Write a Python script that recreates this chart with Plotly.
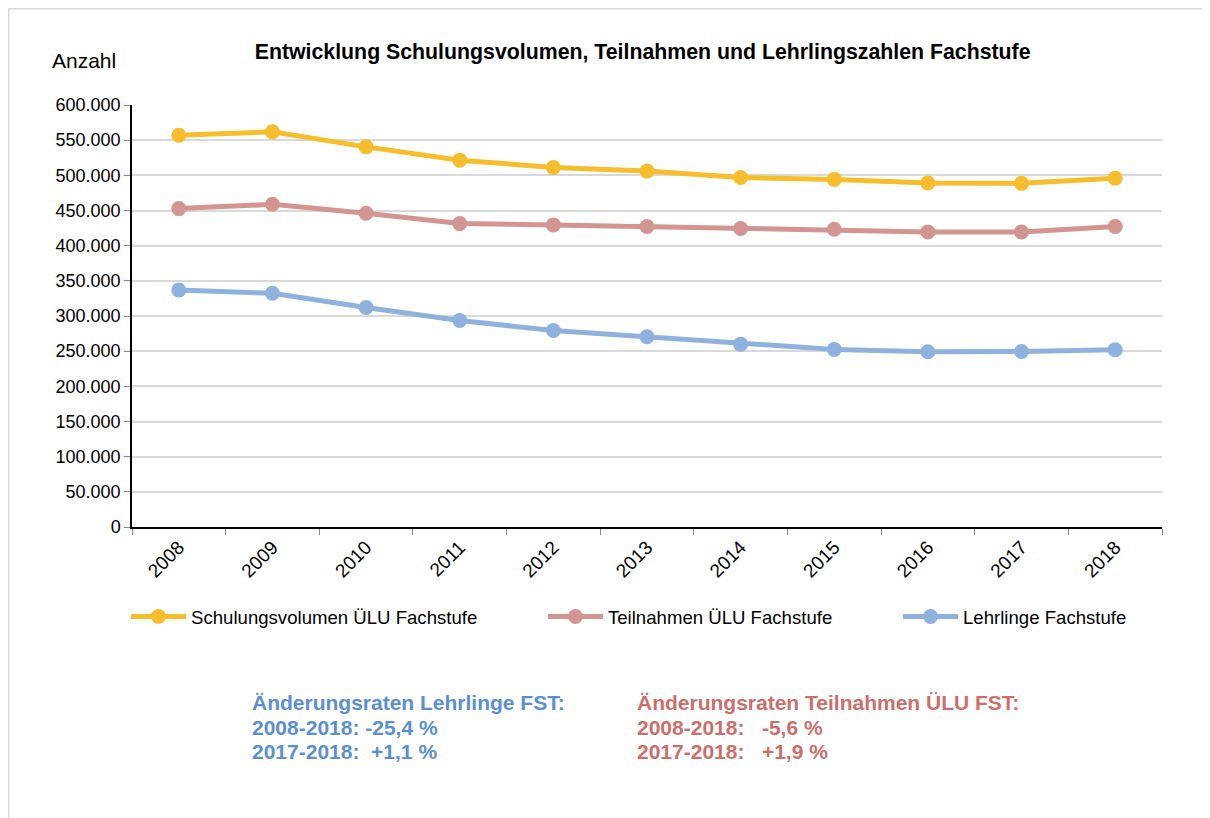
import plotly.graph_objects as go

# Data
years = ['2008', '2009', '2010', '2011', '2012', '2013', '2014', '2015', '2016', '2017', '2018']
schulungsvolumen = [557000, 561800, 540500, 521600, 511200, 506000, 497000, 494200, 489000, 488600, 496000]
teilnahmen = [452700, 458800, 446000, 431400, 429500, 427200, 424400, 423400, 419600, 419600, 427200]
lehrlinge = [337000, 332300, 312000, 293600, 279400, 270400, 260000, 252500, 249200, 249600, 252000]

series_names = ['Schulungsvolumen ÜLU Fachstufe', 'Teilnahmen ÜLU Fachstufe', 'Lehrlinge Fachstufe']
series_colors = ['#F6BE2C', '#D39592', '#8FB1DD']

lehrlinge_text = ['Änderungsraten Lehrlinge FST:', '2008-2018: -25,4 %', '2017-2018:  +1,1 %']
teilnahmen_text = ['Änderungsraten Teilnahmen ÜLU FST:', '2008-2018:   -5,6 %', '2017-2018:   +1,9 %']

FONT = 'Liberation Sans, Arial, sans-serif'

fig = go.Figure()
legend_ids = ['legend', 'legend2', 'legend3']
for name, values, color, lg in zip(series_names, [schulungsvolumen, teilnahmen, lehrlinge],
                                   series_colors, legend_ids):
    fig.add_scatter(x=years, y=values, mode='lines+markers', name=name, legend=lg,
                    line=dict(color=color, width=5),
                    marker=dict(color=color, size=15))

# axes styled like the Excel original
fig.update_xaxes(type='category', range=[-0.5, 10.5], tickson='boundaries',
                 ticks='outside', ticklen=6, tickcolor='#888888',
                 showline=True, linecolor='black', linewidth=1.5,
                 showgrid=False, tickangle=-45,
                 tickfont=dict(family=FONT, size=19, color='black'))
fig.update_yaxes(range=[0, 600000], dtick=50000, tickformat=',d',
                 ticks='outside', ticklen=6, tickcolor='#888888',
                 showline=True, linecolor='black', linewidth=1.5,
                 gridcolor='#D9D9D9', gridwidth=1.5, zeroline=False,
                 tickfont=dict(family=FONT, size=18, color='black'))

# change-rate text blocks under the legend, one annotation per line
line_y = [-0.417, -0.474, -0.533]
for txt, y in zip(lehrlinge_text, line_y):
    fig.add_annotation(text=txt, xref='paper', yref='paper', x=0.1146, y=y,
                       xanchor='left', yanchor='middle', showarrow=False,
                       font=dict(family=FONT, size=21, color='#5B8FD0', weight='bold'))
for txt, y in zip(teilnahmen_text, line_y):
    fig.add_annotation(text=txt, xref='paper', yref='paper', x=0.488, y=y,
                       xanchor='left', yanchor='middle', showarrow=False,
                       font=dict(family=FONT, size=21, color='#CB6F6C', weight='bold'))

fig.add_annotation(text='Anzahl', xref='paper', yref='paper', x=-0.0796, y=1.1066,
                   xanchor='left', yanchor='middle', showarrow=False,
                   font=dict(family=FONT, size=21, color='black'))

# thin outer frame (only top and left edges visible in the original)
fig.add_shape(type='line', xref='paper', yref='paper', x0=-0.1199, x1=1.06, y0=1.2287, y1=1.2287,
              line=dict(color='#D9D9D9', width=2))
fig.add_shape(type='line', xref='paper', yref='paper', x0=-0.1199, x1=-0.1199, y0=1.2287, y1=-0.75,
              line=dict(color='#D9D9D9', width=2))

legend_style = dict(orientation='h', y=-0.213, xanchor='left', yanchor='middle',
                    itemwidth=55, bgcolor='rgba(0,0,0,0)',
                    font=dict(family=FONT, size=18.6, color='black'))

fig.update_layout(
    width=1202, height=810,
    margin=dict(l=124, r=48, t=97, b=291),
    paper_bgcolor='white', plot_bgcolor='white',
    separators=',.',
    title=dict(text='<b>Entwicklung Schulungsvolumen, Teilnahmen und Lehrlingszahlen Fachstufe</b>',
               x=0.528, y=0.9457, xanchor='center', yanchor='middle',
               font=dict(family=FONT, size=21.3, color='black')),
    legend=dict(x=-0.0058, **legend_style),
    legend2=dict(x=0.399, **legend_style),
    legend3=dict(x=0.7437, **legend_style),
    showlegend=True,
)

fig.write_html("out.html")
